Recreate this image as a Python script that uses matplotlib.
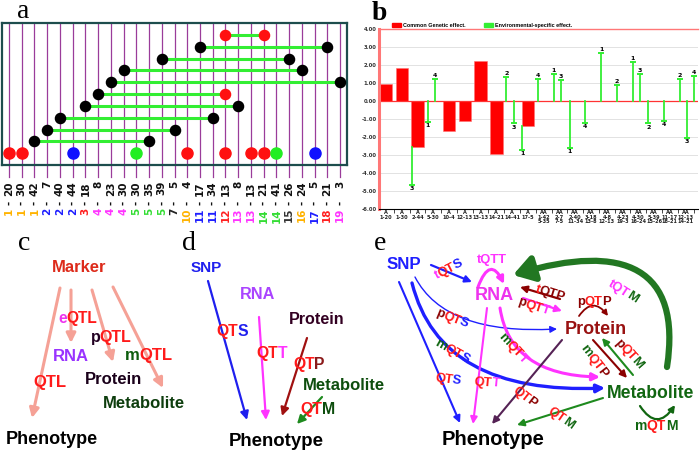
import numpy as np
import matplotlib
matplotlib.use('Agg')
from matplotlib import pyplot as plt
from matplotlib.patches import FancyArrowPatch, Patch
from matplotlib.path import Path
from matplotlib.font_manager import FontProperties
from matplotlib.transforms import blended_transform_factory

W, H = 700, 451

# ---------------- panel a : loci ----------------
loci_chr = [1, 1, 1, 2, 2, 2, 3, 4, 4, 4, 5, 5, 5, 7, 10, 11, 11, 12, 13, 13, 14, 14, 15, 16, 17, 18, 19]
loci_pos = [20, 30, 42, 7, 40, 44, 18, 8, 23, 30, 30, 35, 39, 5, 4, 17, 34, 13, 8, 13, 21, 41, 26, 24, 5, 21, 3]
chr_colors = {1: '#ffb300', 2: '#1f1fff', 3: '#ff1f1f', 4: '#ff33ff', 5: '#33dd33', 7: '#222222',
              10: '#ffb300', 11: '#1f1fff', 12: '#ff1f1f', 13: '#ff33ff', 14: '#33dd33', 15: '#333333',
              16: '#ffb300', 17: '#1f1fff', 18: '#ff1f1f', 19: '#ff33ff'}

# ---------------- panel b : effects ----------------
a_loci = ['1-20', '1-30', '2-44', '5-30', '10-4', '12-13', '13-13', '14-21', '14-41', '17-5']
aa_pairs = [('1-42', '5-35'), ('2-7', '7-5'), ('2-40', '11-34'), ('3-18', '13-8'), ('4-8', '12-13'),
            ('4-23', '19-3'), ('4-30', '16-24'), ('5-39', '15-26'), ('11-17', '18-21'), ('12-13', '14-21')]
common = [0.95, 1.85, -2.55, 0, -1.65, -1.12, 2.20, -2.95, 0, -1.38,
          0, 0, 0, 0, 0, 0, 0, 0, 0, 0]
N = None
env1 = [N, N, N, -1.17, N, N, N, N, N, -2.70, N, 1.50, -2.60, N, 2.65, N, 2.15, N, N, N]
env2 = [N, N, N, N, N, N, N, N, 1.32, N, N, N, N, N, N, 0.90, N, -1.25, N, 1.20]
env3 = [N, N, -4.65, N, N, N, N, N, -1.25, N, N, 1.15, N, N, N, N, 1.50, N, N, -2.05]
env4 = [N, N, N, 1.22, N, N, N, N, N, N, 1.22, N, N, -1.20, N, N, N, N, -1.10, 1.40]
yticks = np.arange(-6, 5, 1)

fig = plt.figure(figsize=(7, 4.51), dpi=100)
axp = fig.add_axes([0, 0, 1, 1])
axp.set_xlim(0, W)
axp.set_ylim(H, 0)
axp.axis('off')
renderer = fig.canvas.get_renderer()

# ---------- a ----------
axa = fig.add_axes([2 / W, 1 - 165 / H, 345 / W, 142 / H])
xs = np.arange(len(loci_chr))
names = ['%d-%d' % (c, p) for c, p in zip(loci_chr, loci_pos)]
axa.set_xlim(-0.55, 26.55)
axa.set_ylim(-1, 11)
for i in xs:
    axa.plot([i, i], [11, -2.05], color='#9a3c9a', lw=0.9, clip_on=False, zorder=1)
for k, (l1, l2) in enumerate(aa_pairs, start=1):
    i1, i2 = names.index(l1), names.index(l2)
    axa.plot([i1, i2], [k, k], color='#33ee33', lw=2.2, zorder=2)
    for nm, ii in ((l1, i1), (l2, i2)):
        c = '#ff1010' if nm in a_loci else 'black'
        axa.plot(ii, k, 'o', ms=7.3, color=c, zorder=3)
for j, nm in enumerate(a_loci):
    has_env = any(e[j] is not None for e in (env1, env2, env3, env4))
    if common[j] != 0 and has_env:
        c = '#1010ff'
    elif common[j] != 0:
        c = '#ff1010'
    else:
        c = '#22ee22'
    axa.plot(names.index(nm), 0, 'o', ms=8, color=c, zorder=3)
for s in axa.spines.values():
    s.set_color('#1d4d4d')
    s.set_linewidth(1.6)
axa.set_xticks([])
axa.set_yticks([])
tr = blended_transform_factory(axa.transData, axp.transData)
for i in xs:
    kw = dict(rotation=90, ha='center', fontsize=7.5, fontweight='bold', transform=tr)
    axp.text(i, 181, str(loci_pos[i]), va='top', color='#111111', **kw)
    axp.text(i, 203, '-', va='center', color='#111111', **kw)
    axp.text(i, 208, str(loci_chr[i]), va='top', color=chr_colors[loci_chr[i]], **kw)

# ---------- b ----------
axb = fig.add_axes([379.3 / W, 1 - 209 / H, 319 / W, 180 / H])
cats = ['A\n' + a for a in a_loci] + ['AA\n%s\n%s' % p for p in aa_pairs]
xb = np.arange(len(cats))
axb.bar(xb, common, width=0.78, color='#ff0000', edgecolor='#ff7070', lw=0.4, zorder=2)
envs = [env1, env2, env3, env4]
for i in xb:
    k = 0
    for e, vals in enumerate(envs, start=1):
        v = vals[i]
        if v is None:
            continue
        xi = i - 0.36 + 0.45 * k
        base = common[i] if common[i] * v > 0 else 0
        axb.plot([xi, xi], [base, v], color='#33ee33', lw=1.3, zorder=3)
        axb.plot([xi], [v], marker='_', ms=5, mew=1.4, color='#33ee33', zorder=3)
        axb.text(xi, v + (0.05 if v > 0 else -0.07), str(e), ha='center',
                 va='bottom' if v > 0 else 'top', fontsize=4.5, fontweight='bold', zorder=4)
        k += 1
axb.set_xlim(-0.42, 19.8)
axb.set_ylim(-6, 4)
axb.set_yticks(yticks)
axb.set_yticklabels(['%.2f' % v for v in yticks], fontsize=3.8, fontweight='bold', color='#333333')
axb.grid(axis='y', color='#dddddd', lw=0.6)
axb.set_axisbelow(True)
axb.axhline(0, color='#ff3333', lw=0.9, zorder=2.5)
axb.spines['left'].set_color('#ff7777')
axb.spines['left'].set_linewidth(2.2)
axb.spines['top'].set_color('#ff7777')
axb.spines['top'].set_linewidth(1.0)
axb.spines['right'].set_visible(False)
axb.spines['bottom'].set_linewidth(0.8)
axb.set_xticks(xb)
axb.set_xticklabels(cats, fontsize=3.6, linespacing=0.85, fontweight='bold', color='#222222')
axb.set_xticks(xb + 0.5, minor=True)
axb.tick_params(axis='x', which='major', length=0, pad=1)
axb.tick_params(axis='x', which='minor', length=3, width=0.5)
axb.tick_params(axis='y', length=0, pad=2)
fl = FontProperties(family='Liberation Sans', weight='bold', size=3.9)
axb.legend([Patch(color='#ff0000'), Patch(color='#33ee33')],
           ['Common Genetic effect.', 'Environmental-specific effect.'],
           loc='lower left', bbox_to_anchor=(0.04, 1.005), ncol=2, frameon=False, prop=fl,
           handlelength=1.6, handleheight=0.9, columnspacing=3.5, borderaxespad=0,
           borderpad=0, handletextpad=0.4)


# ---------- helpers for c, d, e ----------
def twidth(s, fp):
    t = axp.text(0, 0, s, fontproperties=fp)
    w = t.get_window_extent(renderer).width
    t.remove()
    return w


def ctext(x, y, parts, size, rot=0):
    # multi-coloured label, pieces laid one after the other along the rotation
    fp = FontProperties(family='Liberation Sans', weight='bold', size=size)
    em = size * 100 / 72
    gap = -0.03 * em
    ws = [twidth(s, fp) for s, c in parts]
    tot = sum(ws) + gap * (len(parts) - 1)
    th = np.deg2rad(rot)
    ux, uy = np.cos(th), -np.sin(th)
    bx = x + 0.36 * em * np.sin(th)
    by = y + 0.36 * em * np.cos(th)
    x0, y0 = bx - tot / 2 * ux, by - tot / 2 * uy
    off = 0
    for (s, c), w in zip(parts, ws):
        axp.text(x0 + off * ux, y0 + off * uy, s, color=c, fontproperties=fp, rotation=rot,
                 rotation_mode='anchor', ha='left', va='baseline', zorder=5)
        off += w + gap


def arrow(p1, p2, color, lw=1.5, ms=12):
    axp.add_patch(FancyArrowPatch(p1, p2, arrowstyle='-|>', color=color, lw=lw,
                                  mutation_scale=ms, shrinkA=0, shrinkB=0, zorder=3))


def curve(pts, color, lw=1.5, ms=12, style='-|>'):
    codes = [Path.MOVETO] + [Path.CURVE3 if len(pts) == 3 else Path.CURVE4] * (len(pts) - 1)
    axp.add_patch(FancyArrowPatch(path=Path(pts, codes), arrowstyle=style, color=color, lw=lw,
                                  mutation_scale=ms, zorder=3))


RED = '#ff1a1a'
BLUE = '#1f1fff'
MAG = '#ff33ff'
DRED = '#8b0000'
GRN = '#116611'

# ---------- c ----------
sal = '#f5a196'
arrow((60, 288), (32, 418), sal, lw=2.2, ms=14)
arrow((71, 290), (71, 343), sal, lw=2.2, ms=14)
arrow((92, 290), (113, 362), sal, lw=2.2, ms=14)
arrow((113, 287), (163, 388), sal, lw=2.2, ms=14)
ctext(79, 266, [('Marker', '#dd2a1a')], 12)
ctext(78, 317, [('e', '#ee33ee'), ('QTL', RED)], 11.2)
ctext(111, 336, [('p', '#220022'), ('QTL', RED)], 11.5)
ctext(71, 355, [('RNA', '#9933ff')], 12)
ctext(149, 354, [('m', '#0d5d0d'), ('QTL', RED)], 12)
ctext(50, 381, [('QTL', RED)], 12)
ctext(113, 378, [('Protein', '#1a001a')], 12)
ctext(144, 402, [('Metabolite', '#0d3d0d')], 12)
ctext(52, 438, [('Phenotype', 'black')], 13)

# ---------- d ----------
arrow((208, 281), (247, 420), '#1f1fee', lw=1.6, ms=12)
arrow((259, 317), (266, 420), MAG, lw=1.6, ms=12)
arrow((307, 338), (282, 416), '#a01010', lw=1.6, ms=12)
arrow((322, 397), (297, 424), '#1e8a1e', lw=1.6, ms=12)
ctext(206, 266, [('SNP', '#1f1fee')], 11)
ctext(258, 293, [('RNA', '#aa44ff')], 11.7)
ctext(232, 330, [('QT', RED), ('S', '#1f1fee')], 11.3)
ctext(317, 318, [('Protein', '#330022')], 11.6)
ctext(272, 352, [('QT', RED), ('T', MAG)], 11.3)
ctext(309, 363, [('QT', RED), ('P', '#8b1a1a')], 11.3)
ctext(344, 384, [('Metabolite', '#0d4d0d')], 12)
ctext(318, 408, [('QT', RED), ('M', '#0d4d0d')], 11.4)
ctext(276, 439, [('Phenotype', 'black')], 13.4)

# ---------- e ----------
arrow((431, 265), (472, 282), BLUE, lw=1.6, ms=10)
curve([(478, 287), (490, 255), (504, 284)], MAG, lw=2.2, ms=10)
arrow((560, 299), (520, 287), DRED, lw=1.6, ms=10)
arrow((523, 298), (562, 311), MAG, lw=1.6, ms=10)
curve([(579, 316), (593, 296), (608, 316)], DRED, lw=1.3, ms=8)
curve([(667, 367), (682, 268), (625, 242), (513, 275)], '#227722', lw=4.5, ms=22,
      style='-|>,head_length=0.55,head_width=0.35')
curve([(415, 277), (445, 335), (557, 329)], BLUE, lw=1.0, ms=10)
curve([(412, 283), (440, 395), (605, 388)], BLUE, lw=2.4, ms=12)
curve([(500, 308), (510, 375), (600, 377)], MAG, lw=2.2, ms=11)
arrow((593, 340), (627, 378), DRED, lw=1.5, ms=10)
arrow((633, 375), (602, 338), '#1e8a1e', lw=1.5, ms=10)
arrow((399, 282), (460, 423), BLUE, lw=1.5, ms=10)
arrow((487, 308), (473, 424), MAG, lw=1.5, ms=10)
arrow((562, 340), (492, 424), '#552255', lw=1.5, ms=10)
arrow((603, 398), (517, 425), '#1e8a1e', lw=1.5, ms=10)
curve([(640, 406), (657, 432), (675, 405)], GRN, lw=1.6, ms=9)

ctext(404, 263, [('SNP', BLUE)], 12.2)
ctext(494, 293, [('RNA', '#ee33ee')], 13)
ctext(596, 327, [('Protein', '#991111')], 13)
ctext(651, 392, [('Metabolite', GRN)], 12.7)
ctext(493, 438, [('Phenotype', 'black')], 14.5)
ls = 9.4
ctext(448, 268, [('t', MAG), ('QT', RED), ('S', BLUE)], ls, 27)
ctext(492, 258, [('tQTT', MAG)], ls)
ctext(551, 292, [('t', RED), ('QTP', DRED)], ls, -17)
ctext(534, 305, [('p', DRED), ('QT', RED), ('T', MAG)], ls, -18)
ctext(594, 300, [('p', DRED), ('QT', RED), ('P', DRED)], ls)
ctext(624, 290, [('tQT', MAG), ('M', GRN)], ls, -33)
ctext(453, 317, [('p', DRED), ('QT', RED), ('S', BLUE)], ls, -22)
ctext(453, 350, [('m', GRN), ('QT', RED), ('S', BLUE)], ls, -29)
ctext(514, 347, [('m', GRN), ('QT', RED), ('T', MAG)], ls, -47)
ctext(595, 360, [('m', GRN), ('QT', RED), ('P', DRED)], ls, -52)
ctext(630, 353, [('p', DRED), ('QT', RED), ('M', GRN)], ls, -48)
ctext(448, 378, [('QT', RED), ('S', BLUE)], ls, -8)
ctext(487, 381, [('QT', RED), ('T', MAG)], ls, -5)
ctext(526, 396, [('QT', RED), ('P', DRED)], ls, -38)
ctext(562, 417, [('QT', RED), ('M', GRN)], ls, -35)
ctext(656, 425, [('m', GRN), ('QT', RED), ('M', GRN)], 10)

# panel letters
for lx, ly, t, w in [(23, 18, 'a', 'normal'), (379, 20, 'b', 'bold'), (24, 250, 'c', 'normal'),
                     (189, 250, 'd', 'normal'), (380, 250, 'e', 'normal')]:
    axp.text(lx, ly, t, family='Liberation Serif', fontsize=20, fontweight=w,
             ha='center', va='baseline')

plt.savefig('out.png', dpi=100)
